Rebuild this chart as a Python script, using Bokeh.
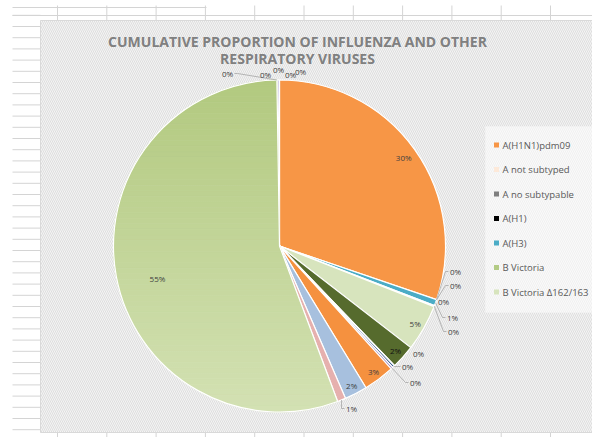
import math
import numpy as np
from bokeh.plotting import figure
from bokeh.models import Range1d
from bokeh.core.properties import value
from bokeh.embed import file_html
from bokeh.resources import INLINE

# ---------------- data ----------------
TITLE_LINES = ["CUMULATIVE PROPORTION OF INFLUENZA AND OTHER", "RESPIRATORY VIRUSES"]

categories = ["A(H1N1)pdm09", "A not subtyped", "A no subtypable", "A(H1)", "A(H3)",
              "B Victoria", "B Victoria \u0394162/163", "Series 8", "Series 9", "Series 10",
              "Series 11", "Series 12", "Series 13", "Series 14", "Series 15",
              "Series 16", "Series 17", "Series 18", "Series 19", "Series 20"]
values = [30.0, 0.0, 0.0, 0.0, 0.6,
          0.1, 4.5, 2.3, 0.05, 0.2,
          0.2, 3.0, 2.2, 0.8, 55.0,
          0.0, 0.1, 0.15, 0.0, 0.0]
legend_count = 7

# ---------------- styles ----------------
colors = ["#F79646", "#FDE9D9", "#7F7F7F", "#000000", "#4BACC6",
          "#B3CB85", "#D7E4BD", "#566B2D", "#E6E0EC", "#1F497D",
          "#9A85C0", "#F5913F", "#A7C0DE", "#E6B0AE", "#C3D69B",
          "#D9D9D9", "#A6A6A6", "#8E7CC3", "#CCC0DA", "#DDD9C4"]
GRAD_SLICE = 14
GRAD_TOP, GRAD_BOTTOM = "#B2C97F", "#D3E1B3"
DARK_LABEL_SLICES = {7}

W, H = 592, 437
def X(px):  # page pixel -> data
    return px
def Y(py):
    return H - py

CX, CY, R = X(279), Y(245.5), 166.0

# label layout: ("in", radius factor, angle offset) or ("out", page x, page y, leader)
label_layout = {
    0: ("in", 0.92, 0.0), 6: ("in", 0.94, 0.0), 7: ("in", 0.94, 0.0),
    11: ("in", 0.945, 0.0), 12: ("in", 0.945, 0.0), 14: ("in", 0.76, -4.0),
    1: ("out", 455, 271, True), 2: ("out", 455, 285, True), 3: ("out", 443, 301, False),
    4: ("out", 452, 317, True), 5: ("out", 453, 331, True),
    8: ("out", 418, 353, False), 9: ("out", 407, 366, True), 10: ("out", 415, 382, True),
    13: ("out", 351, 408, True),
    15: ("out", 227, 73, True), 16: ("out", 265, 74, False), 17: ("out", 278, 69, False),
    18: ("out", 290, 74, False), 19: ("out", 300, 71, False),
}

p = figure(width=W, height=H, x_range=Range1d(0, W), y_range=Range1d(0, H),
           output_backend="svg", toolbar_location=None, min_border=0,
           x_axis_location=None, y_axis_location=None)
p.grid.visible = False
p.outline_line_color = None
p.background_fill_color = "white"
p.border_fill_color = "white"

# ---------------- spreadsheet grid behind the chart ----------------
GRID = "#d4d4d4"
p.segment(x0=[X(12), X(12)], y0=[Y(15), Y(7)], x1=[X(600), X(206)], y1=[Y(15), Y(7)],
          line_color=GRID, line_width=1)
col_x = 57 + 49.3 * np.arange(12)
p.segment(x0=X(col_x), y0=Y(5), x1=X(col_x), y1=Y(20), line_color=GRID, line_width=1)
p.segment(x0=X(col_x), y0=Y(430), x1=X(col_x), y1=Y(440), line_color=GRID, line_width=1)
row_y = 14.8 + 11.2 * np.arange(38)
p.segment(x0=X(12), y0=Y(row_y), x1=X(40), y1=Y(row_y), line_color=GRID, line_width=1)

# ---------------- chart area ----------------
p.quad(left=X(40), right=X(600), bottom=Y(432), top=Y(20),
       fill_color="#f4f4f4", line_color="#d9d9d9", line_width=1,
       hatch_pattern="\\", hatch_color="#dedede", hatch_scale=4, hatch_weight=1)
# legend box
p.quad(left=X(485), right=X(600), bottom=Y(312), top=Y(126),
       fill_color="#fafafa", line_color=None,
       hatch_pattern="\\", hatch_color="#f0f0f0", hatch_scale=4, hatch_weight=1)

# ---------------- pie ----------------
vals = np.array(values, dtype=float)
total = vals.sum()
cum = np.concatenate([[0.0], np.cumsum(vals)])
theta0 = cum[:-1] / total * 2 * np.pi   # clockwise from 12 o'clock
theta1 = cum[1:] / total * 2 * np.pi
pct = vals / total * 100
labels = ["%d%%" % int(math.floor(v + 0.5)) for v in pct]

def edge_pt(theta, rr):
    return CX + rr * math.sin(theta), CY + rr * math.cos(theta)

def hex2rgb(h):
    h = h.lstrip("#")
    return np.array([int(h[i:i + 2], 16) for i in (0, 2, 4)], dtype=float)

def clip_half(pts, keep, ycut):
    out = []
    n = len(pts)
    for i in range(n):
        a, b = pts[i], pts[(i + 1) % n]
        ia, ib = keep(a[1]), keep(b[1])
        if ia:
            out.append(a)
        if ia != ib:
            t = (ycut - a[1]) / (b[1] - a[1])
            out.append((a[0] + t * (b[0] - a[0]), ycut))
    return out

drawn = [i for i in range(len(vals)) if vals[i] > 0 and i != GRAD_SLICE]
p.wedge(x=[CX] * len(drawn), y=[CY] * len(drawn), radius=R,
        start_angle=[np.pi / 2 - theta0[i] for i in drawn],
        end_angle=[np.pi / 2 - theta1[i] for i in drawn],
        direction="clock", fill_color=[colors[i] for i in drawn],
        line_color="white", line_width=1.2)

# gradient slice as horizontal bands
g = GRAD_SLICE
arc = np.linspace(theta0[g], theta1[g], 240)
poly = [(CX, CY)] + [edge_pt(t, R) for t in arc]
nb = 60
edges = np.linspace(CY + R, CY - R, nb + 1)
c_top, c_bot = hex2rgb(GRAD_TOP), hex2rgb(GRAD_BOTTOM)
xs, ys, fills = [], [], []
for k in range(nb):
    hi, lo = edges[k], edges[k + 1]
    pts = clip_half(poly, lambda y: y <= hi, hi)
    if len(pts) < 3:
        continue
    pts = clip_half(pts, lambda y: y >= lo, lo)
    if len(pts) < 3:
        continue
    f = (k + 0.5) / nb
    c = c_top + (c_bot - c_top) * f
    xs.append([q[0] for q in pts]); ys.append([q[1] for q in pts])
    fills.append("#%02x%02x%02x" % tuple(int(round(v)) for v in c))
p.patches(xs, ys, fill_color=fills, line_color=fills, line_width=0.8)
p.wedge(x=CX, y=CY, radius=R, start_angle=np.pi / 2 - theta0[g], end_angle=np.pi / 2 - theta1[g],
        direction="clock", fill_color=None, line_color="white", line_width=1.2)

# ---------------- data labels ----------------
LBL = "#404040"
LEADER = "#a6a6a6"
tx, ty, tt, tc = [], [], [], []
lx0, ly0, lx1, ly1, lx2, ly2 = [], [], [], [], [], []
for i, lay in label_layout.items():
    mid = (theta0[i] + theta1[i]) / 2
    if lay[0] == "in":
        a = mid + math.radians(lay[2])
        x, y = edge_pt(a, R * lay[1])
    else:
        x, y = X(lay[1]), Y(lay[2])
        if lay[3]:
            ex, ey = edge_pt(mid, R)
            sgn = -1 if x > ex else 1
            sx = x + sgn * 7
            lx0.append(sx); ly0.append(y)
            lx1.append(sx + sgn * 3); ly1.append(y)
            lx2.append(ex); ly2.append(ey)
    tx.append(x); ty.append(y); tt.append(labels[i])
    tc.append("#111111" if i in DARK_LABEL_SLICES else LBL)
p.segment(x0=lx0, y0=ly0, x1=lx1, y1=ly1, line_color=LEADER, line_width=0.8)
p.segment(x0=lx1, y0=ly1, x1=lx2, y1=ly2, line_color=LEADER, line_width=0.8)
p.text(x=tx, y=ty, text=tt, text_font=value("Open Sans"), text_font_size="8px",
       text_color=tc, text_align="center", text_baseline="middle")

# ---------------- legend ----------------
leg_y = Y(144.5 + 24.5 * np.arange(legend_count))
p.scatter(x=[X(496)] * legend_count, y=leg_y, marker="square", size=5,
          fill_color=colors[:legend_count], line_color=None)
p.text(x=[X(502)] * legend_count, y=leg_y, text=categories[:legend_count],
       text_font=value("Open Sans"), text_font_size="9.5px", text_color="#595959",
       text_align="left", text_baseline="middle")

# ---------------- title ----------------
p.text(x=[X(297), X(297)], y=[Y(41), Y(58)], text=TITLE_LINES,
       text_font=value("Open Sans"), text_font_size="14px", text_font_style="bold",
       text_color="#808080", text_align="center", text_baseline="middle")

open("out.html", "w").write(file_html(p, INLINE))
